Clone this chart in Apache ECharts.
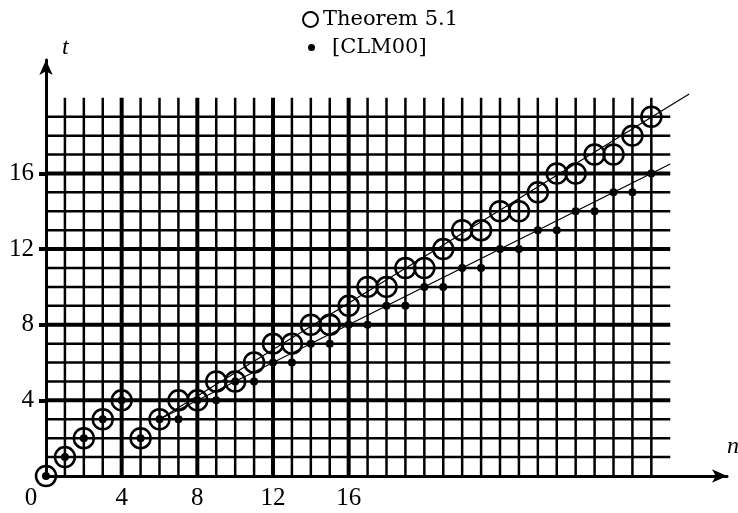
<!DOCTYPE html>
<html>
<head>
<meta charset="utf-8">
<script type="text/javascript" src="https://cdn.jsdelivr.net/npm/echarts@6.0.0/dist/echarts.min.js"></script>
<title>Theorem 5.1 / [CLM00]</title>
</head>
<body style="margin:0">
<div id="container" style="width:738px;height:513px;"></div>
<script type="text/javascript">
// n values and the t read for each one
var nValues = [0, 1, 2, 3, 4, 5, 6, 7, 8, 9, 10, 11, 12, 13, 14, 15, 16,
    17, 18, 19, 20, 21, 22, 23, 24, 25, 26, 27, 28, 29, 30, 31, 32];
var theoremT = [0, 1, 2, 3, 4, 2, 3, 4, 4, 5, 5, 6, 7, 7, 8, 8, 9,
    10, 10, 11, 11, 12, 13, 13, 14, 14, 15, 16, 16, 17, 17, 18, 19];
var clmT = [0, 1, 2, 3, 4, 2, 3, 3, 4, 4, 5, 5, 6, 6, 7, 7, 8,
    8, 9, 9, 10, 10, 11, 11, 12, 12, 13, 13, 14, 14, 15, 15, 16];

// the two thin guide lines (end points)
var theoremGuide = [[6, 3], [34, 20.2]];
var clmGuide = [[6, 3], [33, 16.5]];

var xTickLabels = [0, 4, 8, 12, 16];
var yTickLabels = [4, 8, 12, 16];

// background lattice: vertical lines n=1..32 up to t=20, horizontal t=1..19 up to n=33
var latticeN = 32, latticeT = 19, latticeTop = 20, latticeRight = 33;
var majorLines = [4, 8, 12, 16];

var serif = '"Liberation Serif", "DejaVu Serif", serif';

function pairs(xs, ys) {
    return xs.map(function (x, i) { return [x, ys[i]]; });
}

var lattice = [];
for (var i = 1; i <= latticeN; i++) lattice.push([0, i]);
for (var j = 1; j <= latticeT; j++) lattice.push([1, j]);

var myChart = echarts.init(document.getElementById('container'));

var option = {
    animation: false,
    grid: { left: 46, right: 11, top: 60, bottom: 37, outerBoundsMode: 'none' },
    legend: [{
        top: 4, left: 297,
        icon: 'circle', itemWidth: 15, itemHeight: 15,
        itemStyle: { color: 'rgba(0,0,0,0)', borderColor: '#000', borderWidth: 2 },
        textStyle: { fontFamily: '"DejaVu Serif", serif', fontSize: 21, color: '#000' },
        data: ['Theorem 5.1']
    }, {
        top: 32, left: 303,
        icon: 'circle', itemWidth: 7, itemHeight: 7,
        itemStyle: { color: '#000', borderWidth: 0, opacity: 1 },
        textStyle: { fontFamily: '"DejaVu Serif", serif', fontSize: 21, color: '#000', padding: [0, 0, 0, 12] },
        data: ['[CLM00]']
    }],
    xAxis: {
        type: 'value', min: 0, max: 36, interval: 4,
        name: 'n', nameLocation: 'end', nameGap: 0,
        nameTextStyle: { fontFamily: serif, fontStyle: 'italic', fontSize: 24, color: '#000',
            align: 'left', verticalAlign: 'bottom', padding: [0, 0, 17, 0] },
        axisLine: { lineStyle: { color: '#000', width: 3 }, symbol: ['none', 'arrow'], symbolSize: [10, 15] },
        axisTick: { show: false },
        splitLine: { show: false },
        axisLabel: {
            customValues: xTickLabels, margin: 10,
            fontFamily: serif, fontSize: 25, color: '#000',
            formatter: function (v) { return v === 0 ? '{z|0}' : String(v); },
            rich: { z: { fontFamily: serif, fontSize: 25, color: '#000', padding: [0, 30, 0, 0] } }
        }
    },
    yAxis: {
        type: 'value', min: 0, max: 22, interval: 4,
        name: 't', nameLocation: 'end', nameGap: 0,
        nameTextStyle: { fontFamily: serif, fontStyle: 'italic', fontSize: 24, color: '#000',
            align: 'left', verticalAlign: 'bottom', padding: [0, 0, 0, 16] },
        axisLine: { lineStyle: { color: '#000', width: 3 }, symbol: ['none', 'arrow'], symbolSize: [10, 15] },
        axisTick: { customValues: yTickLabels, length: 7, lineStyle: { color: '#000', width: 4 } },
        splitLine: { show: false },
        axisLabel: { customValues: yTickLabels, margin: 12, fontFamily: serif, fontSize: 25, color: '#000' }
    },
    series: [{
        type: 'custom',
        silent: true,
        z: 1,
        data: lattice,
        renderItem: function (params, api) {
            var dir = api.value(0), v = api.value(1);
            var a, b;
            if (dir === 0) {
                a = api.coord([v, 0]); b = api.coord([v, latticeTop]);
            } else {
                a = api.coord([0, v]); b = api.coord([latticeRight, v]);
            }
            var major = majorLines.indexOf(v) >= 0;
            return {
                type: 'line',
                shape: { x1: a[0], y1: a[1], x2: b[0], y2: b[1] },
                style: { stroke: '#000', lineWidth: major ? 4 : 2.5 }
            };
        }
    }, {
        type: 'line', silent: true, z: 3,
        data: theoremGuide, symbol: 'none',
        lineStyle: { color: '#000', width: 1.2 }
    }, {
        type: 'line', silent: true, z: 3,
        data: clmGuide, symbol: 'none',
        lineStyle: { color: '#000', width: 1.2 }
    }, {
        name: 'Theorem 5.1', type: 'scatter', z: 4,
        data: pairs(nValues, theoremT),
        symbol: 'circle', symbolSize: 20,
        itemStyle: { color: 'rgba(0,0,0,0)', borderColor: '#000', borderWidth: 2.5, opacity: 1 }
    }, {
        name: '[CLM00]', type: 'scatter', z: 5,
        data: pairs(nValues, clmT),
        symbol: 'circle', symbolSize: 8,
        itemStyle: { color: '#000', opacity: 1 }
    }]
};

myChart.setOption(option);
</script>
</body>
</html>
